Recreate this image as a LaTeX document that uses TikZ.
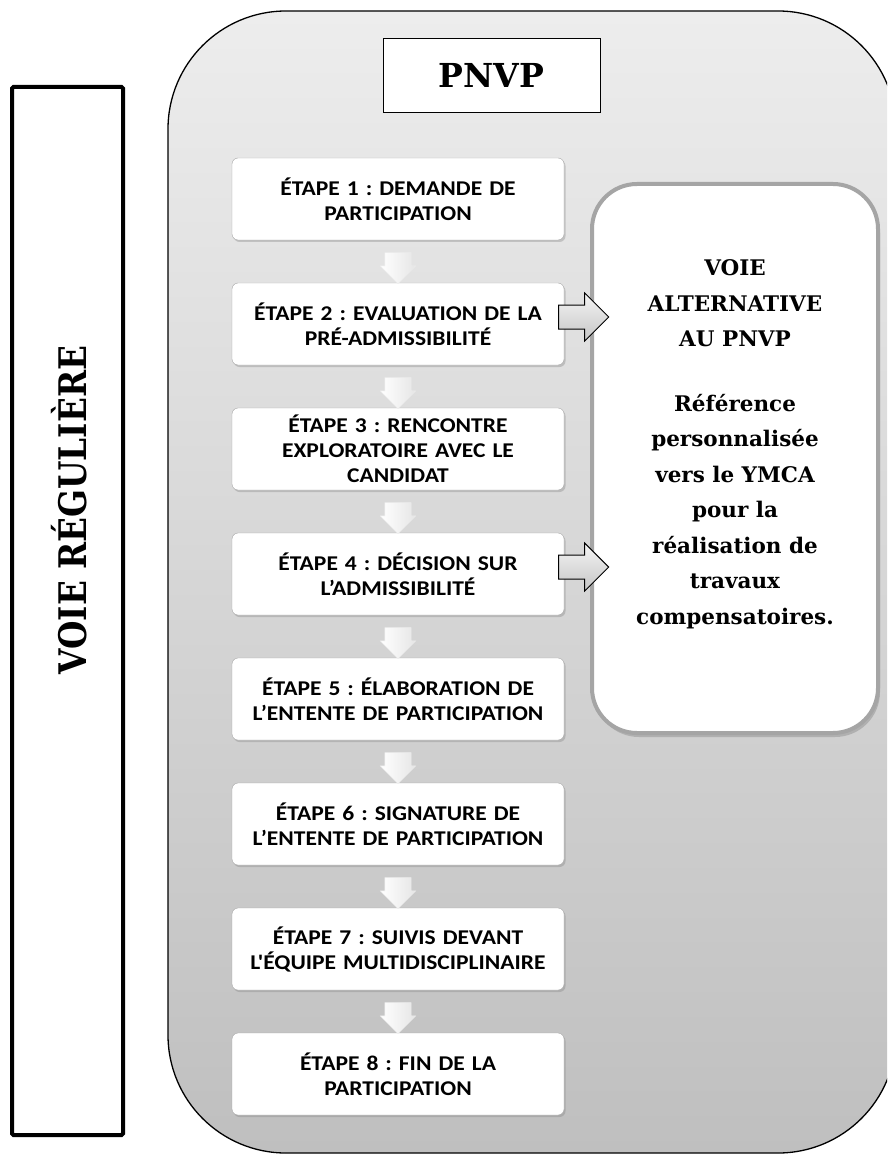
\documentclass[tikz,border=0pt]{standalone}
\usepackage{fontspec}
\setmainfont{DejaVu Serif}
\newfontfamily\stepfont[FakeStretch=1.12]{Carlito}
\newfontfamily\vertfont[FakeStretch=0.86]{DejaVu Serif}
\usetikzlibrary{shapes.arrows,shadows,calc}
\frenchspacing

\definecolor{paneltop}{HTML}{EDEDED}
\definecolor{panelbot}{HTML}{BFBFBF}
\definecolor{altline}{HTML}{A5A5A5}

\tikzset{
  panel/.style={draw=black, line width=1.3pt, rounded corners=118pt,
    top color=paneltop, bottom color=panelbot},
  stepbox/.style={rectangle, rounded corners=6pt, draw=gray!70, fill=white,
    drop shadow={shadow xshift=1.5pt, shadow yshift=-2pt, opacity=.35},
    minimum width=332pt, minimum height=82pt, text width=322pt, inner sep=0pt,
    align=center, font=\stepfont\bfseries\fontsize{21}{25}\selectfont},
  downarrow/.style={single arrow, rotate=-90, minimum height=31pt,
    inner xsep=0pt, inner ysep=13pt, single arrow head extend=4.5pt,
    draw=gray!15, left color=white, right color=gray!20},
  sidearrow/.style={single arrow, minimum height=50pt,
    inner xsep=0pt, inner ysep=11.5pt, single arrow head extend=12pt,
    draw=black, line width=1pt, top color=gray!8, bottom color=gray!45},
  altbox/.style={rectangle, rounded corners=45pt, draw=altline, line width=4pt,
    fill=white, minimum width=286pt, minimum height=549pt,
    drop shadow={shadow xshift=2pt, shadow yshift=-4pt, opacity=.4}},
  alttext/.style={align=center, font=\bfseries\fontsize{21.5}{35.5}\selectfont},
  titlebox/.style={rectangle, draw=black, line width=.8pt, fill=white,
    minimum width=217pt, minimum height=74pt,
    font=\bfseries\fontsize{33}{40}\selectfont},
  sidebox/.style={rectangle, draw=black, line width=4pt, rounded corners=1.5pt,
    minimum width=111pt, minimum height=1048pt},
  sidelabel/.style={rotate=90, font=\vertfont\bfseries\fontsize{38}{44}\selectfont}
}

\begin{document}
\begin{tikzpicture}[x=1pt,y=-1pt]
\useasboundingbox (0,0) rectangle (887,1155);
\clip (0,0) rectangle (887,1155);

% \draw grey panel
\draw[panel] (168,11) rectangle (896,1153);

% \draw left box
\node[sidebox] (voie) at (67.5,611) {};
\node[sidelabel] (voielbl) at (69,510) {VOIE RÉGULIÈRE};

% \draw title
\node[titlebox] (pnvp) at (491.5,75) {PNVP};

% \draw alternative box
\node[altbox] (alt) at (735,458.5) {};
\node[alttext] (altlbl) at ([yshift=14pt]alt.center)
  {VOIE\\ALTERNATIVE\\AU PNVP\\[29pt]Référence\\personnalisée\\vers le YMCA\\pour la\\réalisation de\\travaux\\compensatoires.};

% \draw steps
\foreach \txt [count=\i] in {
  {ÉTAPE 1 : DEMANDE DE\\PARTICIPATION},
  {ÉTAPE 2 : EVALUATION DE LA\\PRÉ-ADMISSIBILITÉ},
  {ÉTAPE 3 : RENCONTRE\\EXPLORATOIRE AVEC LE\\CANDIDAT},
  {ÉTAPE 4 : DÉCISION SUR\\L’ADMISSIBILITÉ},
  {ÉTAPE 5 : ÉLABORATION DE\\L’ENTENTE DE PARTICIPATION},
  {ÉTAPE 6 : SIGNATURE DE\\L’ENTENTE DE PARTICIPATION},
  {ÉTAPE 7 : SUIVIS DEVANT\\L'ÉQUIPE MULTIDISCIPLINAIRE},
  {ÉTAPE 8 : FIN DE LA\\PARTICIPATION}}
  \node[stepbox] (s\i) at (398,{199+125*(\i-1)}) {\txt};

% \draw down arrows
\foreach \i [evaluate=\i as \j using int(\i+1)] in {1,...,7}
  \node[downarrow] (d\i) at ($(s\i.south)!.5!(s\j.north)$) {};

% \draw arrows to the alternative
\foreach \i in {2,4}
  \node[sidearrow, anchor=tail] (r\i) at ([xshift=-6pt,yshift=7pt]s\i.east) {};

\end{tikzpicture}
\end{document}
